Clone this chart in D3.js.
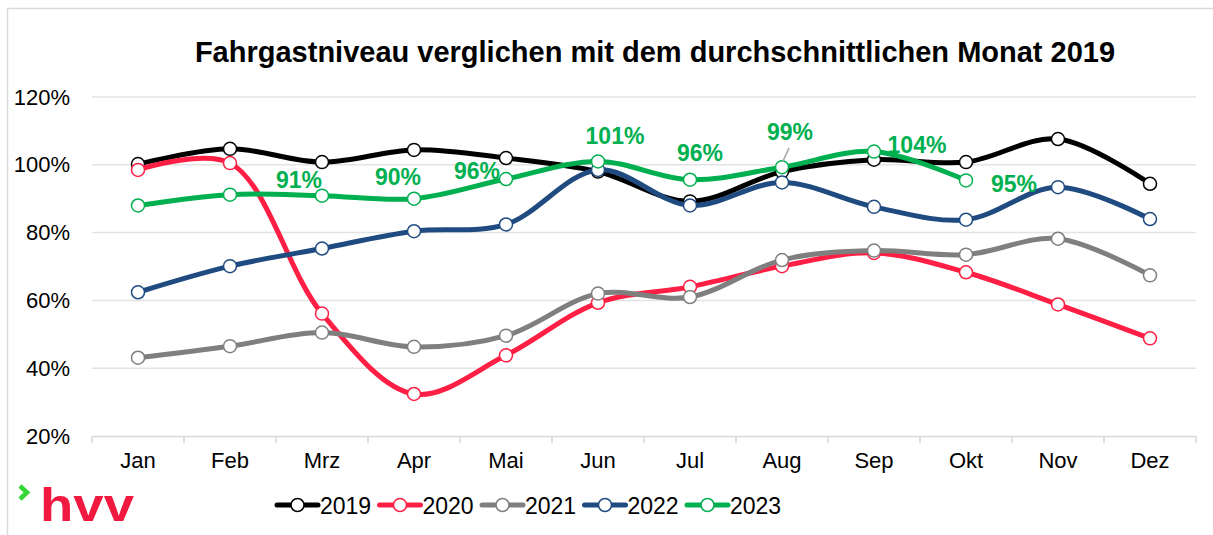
<!DOCTYPE html>
<html>
<head>
<meta charset="utf-8">
<script src="https://cdn.jsdelivr.net/npm/d3@7"></script>
<style>
  body { margin: 0; background: #fff; }
  text { font-family: "Liberation Sans", Arial, sans-serif; }
</style>
</head>
<body>
<div id="chart-area"></div>
<script>
// Fahrgastniveau je Monat, in % vom Durchschnittsmonat 2019
var months = ["Jan", "Feb", "Mrz", "Apr", "Mai", "Jun", "Jul", "Aug", "Sep", "Okt", "Nov", "Dez"];
var years = ["2019", "2020", "2021", "2022", "2023"];
var v2019 = [100.2, 104.7, 100.8, 104.4, 102.0, 98.0, 89.2, 98.0, 101.5, 100.8, 107.6, 94.4];
var v2020 = [98.5, 100.5, 56.1, 32.4, 43.8, 59.3, 64.0, 70.1, 74.0, 68.3, 58.8, 48.8];
var v2021 = [43.1, 46.5, 50.5, 46.3, 49.6, 62.0, 61.0, 71.9, 74.7, 73.5, 78.2, 67.4];
var v2022 = [62.4, 70.1, 75.3, 80.4, 82.4, 98.5, 88.0, 94.8, 87.6, 83.8, 93.4, 84.0];
var v2023 = [88.0, 91.2, 90.9, 90.0, 95.8, 101.0, 95.6, 99.3, 103.9, 95.4];
var yTicks = [20, 40, 60, 80, 100, 120];
var labels2023 = ["", "", "91%", "90%", "96%", "101%", "96%", "99%", "104%", "95%"];

var colors = { "2019": "#000000", "2020": "#FF1F44", "2021": "#7F7F7F", "2022": "#1F4B80", "2023": "#00B050" };
// label offsets (dx, dy) of the label centre relative to the point, as placed in the original
var labelOffsets = [[0, 0], [0, 0], [-23, -16], [-16, -22], [-29, -8], [17, -26], [10, -27], [8, -35], [43, -7], [48, 3]];

var width = 1213, height = 535;
var margin = { top: 97, right: 17, bottom: 99, left: 92 };

var svg = d3.select("#chart-area")
    .append("svg")
        .attr("width", width)
        .attr("height", height);

// outer border
svg.append("rect")
    .attr("x", 7.5).attr("y", 8.5)
    .attr("width", width + 20).attr("height", height + 20)
    .attr("fill", "none")
    .attr("stroke", "#D9D9D9")
    .attr("stroke-width", 1.5);

svg.append("text")
    .attr("x", 655).attr("y", 62)
    .attr("text-anchor", "middle")
    .attr("font-size", 29)
    .attr("font-weight", "bold")
    .text("Fahrgastniveau verglichen mit dem durchschnittlichen Monat 2019");

var x = d3.scaleBand()
    .domain(months)
    .range([margin.left, width - margin.right]);

var y = d3.scaleLinear()
    .domain([20, 120])
    .range([height - margin.bottom, margin.top]);

var cx = function(m) { return x(m) + x.bandwidth() / 2; };

// gridlines
svg.append("g")
    .selectAll("line")
    .data(yTicks.slice(1))
    .enter().append("line")
        .attr("x1", margin.left).attr("x2", width - margin.right)
        .attr("y1", d => y(d)).attr("y2", d => y(d))
        .attr("stroke", "#E3E3E3")
        .attr("stroke-width", 1.5);

// y axis
var yAxisCall = d3.axisLeft(y)
    .tickValues(yTicks)
    .tickSize(0)
    .tickPadding(22)
    .tickFormat(d => d + "%");
var yAxis = svg.append("g")
    .attr("class", "y-axis")
    .attr("transform", "translate(" + margin.left + ", 0)")
    .call(yAxisCall);
yAxis.select(".domain").remove();
yAxis.selectAll("text")
    .attr("font-size", 22)
    .attr("font-family", "Liberation Sans, Arial, sans-serif")
    .attr("fill", "#000");

// x axis
var xAxisCall = d3.axisBottom(x).tickSize(0).tickPadding(16);
var xAxis = svg.append("g")
    .attr("class", "x-axis")
    .attr("transform", "translate(0, " + y(20) + ")")
    .call(xAxisCall);
xAxis.select(".domain")
    .attr("stroke", "#D9D9D9")
    .attr("stroke-width", 1.5);
xAxis.selectAll("text")
    .attr("font-size", 22)
    .attr("font-family", "Liberation Sans, Arial, sans-serif")
    .attr("fill", "#000");
xAxis.selectAll(".sep")
    .data(months.concat(["end"]))
    .enter().append("line")
        .attr("class", "sep")
        .attr("x1", (d, i) => margin.left + i * x.bandwidth())
        .attr("x2", (d, i) => margin.left + i * x.bandwidth())
        .attr("y1", 0).attr("y2", 7)
        .attr("stroke", "#D9D9D9")
        .attr("stroke-width", 1.5);

// series
var series = [
    { name: "2019", values: v2019 },
    { name: "2020", values: v2020 },
    { name: "2021", values: v2021 },
    { name: "2022", values: v2022 },
    { name: "2023", values: v2023 }
];

var line = d3.line()
    .x((d, i) => cx(months[i]))
    .y(d => y(d))
    .curve(d3.curveCatmullRom.alpha(0.5));

series.forEach(s => {
    var g = svg.append("g").attr("class", "series-" + s.name);
    g.append("path")
        .datum(s.values)
        .attr("d", line)
        .attr("fill", "none")
        .attr("stroke", colors[s.name])
        .attr("stroke-width", 5)
        .attr("stroke-linejoin", "round");
    g.selectAll("circle")
        .data(s.values)
        .enter().append("circle")
            .attr("cx", (d, i) => cx(months[i]))
            .attr("cy", d => y(d))
            .attr("r", 6.5)
            .attr("fill", "#fff")
            .attr("stroke", colors[s.name])
            .attr("stroke-width", 1.5);
});

// data labels 2023
var lbl = svg.append("g").attr("class", "labels");
v2023.forEach((v, i) => {
    if (!labels2023[i]) return;
    var px = cx(months[i]), py = y(v);
    var o = labelOffsets[i];
    lbl.append("text")
        .attr("x", px + o[0]).attr("y", py + o[1])
        .attr("dy", "0.36em")
        .attr("text-anchor", "middle")
        .attr("font-size", 23)
        .attr("font-weight", "bold")
        .attr("fill", colors["2023"])
        .text(labels2023[i]);
    if (months[i] === "Aug") {
        lbl.append("line")
            .attr("x1", px + 7).attr("y1", py - 19)
            .attr("x2", px + 1).attr("y2", py - 6)
            .attr("stroke", "#A6A6A6")
            .attr("stroke-width", 1.5);
    }
});

// legend
var legend = svg.append("g")
    .attr("class", "legend")
    .attr("transform", "translate(277, 505)");
years.forEach((yr, i) => {
    var lg = legend.append("g").attr("transform", "translate(" + (i * 102.5) + ", 0)");
    lg.append("line")
        .attr("x1", 0).attr("x2", 41)
        .attr("stroke", colors[yr])
        .attr("stroke-width", 5)
        .attr("stroke-linecap", "round");
    lg.append("circle")
        .attr("cx", 20.5).attr("cy", 0).attr("r", 6.5)
        .attr("fill", "#fff")
        .attr("stroke", colors[yr])
        .attr("stroke-width", 1.5);
    lg.append("text")
        .attr("x", 43).attr("y", 8.5)
        .attr("font-size", 23)
        .text(yr);
});

// hvv logo
svg.append("polyline")
    .attr("points", "20,486 27,492.5 20,499")
    .attr("fill", "none")
    .attr("stroke", "#33D633")
    .attr("stroke-width", 4.5)
    .attr("stroke-linejoin", "miter");
svg.append("text")
    .attr("x", 40).attr("y", 521)
    .attr("font-size", 46)
    .attr("font-weight", "bold")
    .attr("textLength", 94)
    .attr("lengthAdjust", "spacingAndGlyphs")
    .attr("fill", "#F0193F")
    .text("hvv");
</script>
</body>
</html>
